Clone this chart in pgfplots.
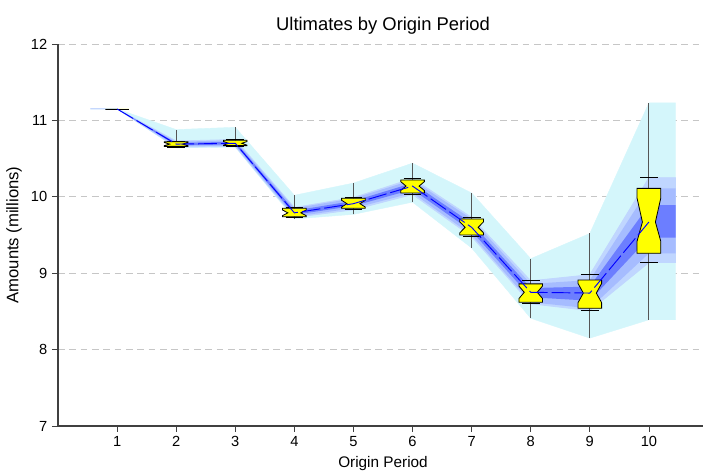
\documentclass[border=0pt]{standalone}
\usepackage{pgfplots}
\pgfplotsset{compat=1.18}
\usepackage{pgfplotstable}
\usepgfplotslibrary{fillbetween}
\usepackage{fontspec}
\setmainfont{Liberation Sans}
\definecolor{bandcyan}{RGB}{212,246,251}
\definecolor{bandlight}{RGB}{192,214,255}
\definecolor{bandmid}{RGB}{166,188,255}
\definecolor{banddark}{RGB}{108,126,255}
\definecolor{boxyellow}{RGB}{255,255,0}
\definecolor{whisk}{RGB}{85,85,85}

\pgfplotstableread{
x     min    p5     q1     dlo    med    dhi    q3     p95    max
0.55  11.15  11.15  11.15  11.15  11.15  11.15  11.15  11.15  11.15
1     11.15  11.15  11.15  11.15  11.15  11.15  11.15  11.15  11.15
2     10.64  10.65  10.66  10.675 10.69  10.705 10.72  10.73  10.88
3     10.65  10.66  10.67  10.685 10.70  10.72  10.74  10.75  10.91
4     9.71   9.73   9.74   9.765  9.79   9.82   9.85   9.86   10.02
5     9.77   9.83   9.85   9.88   9.91   9.945  9.98   9.99   10.18
6     9.93   10.03  10.05  10.095 10.14  10.18  10.22  10.24  10.44
7     9.33   9.48   9.50   9.55   9.60   9.655  9.71   9.73   10.05
8     8.41   8.60   8.62   8.685  8.75   8.805  8.86   8.90   9.19
9     8.15   8.51   8.54   8.64   8.74   8.825  8.91   8.98   9.52
10    8.39   9.14   9.26   9.465  9.67   9.89   10.11  10.25  11.23
10.45 8.39   9.14   9.26   9.465  9.67   9.89   10.11  10.25  11.23
}\ultimates

% notched box: xl, xpl, xpr, xr, q1, notch-lo, median, notch-hi, q3
\newcommand{\nbox}[9]{%
  \addplot[fill=boxyellow, draw=black, line width=0.6pt] coordinates {(#1,#5) (#4,#5) (#4,#6) (#3,#7) (#4,#8) (#4,#9) (#1,#9) (#1,#8) (#2,#7) (#1,#6)} -- cycle;}
% whisker line: x, min, max ; caps: xl, xr, p5, p95
\newcommand{\whisk}[3]{\addplot[whisk, line width=0.7pt] coordinates {(#1,#2) (#1,#3)};}
\newcommand{\caps}[4]{%
  \addplot[black, line width=0.6pt] coordinates {(#1,#3) (#2,#3)};
  \addplot[black, line width=0.6pt] coordinates {(#1,#4) (#2,#4)};}

\begin{document}
\begin{tikzpicture}
\begin{axis}[
  scale only axis,
  width=487.5pt, height=286.5pt,
  xmin=0, xmax=11, ymin=7, ymax=12,
  axis x line*=bottom, axis y line*=left,
  axis line style={black!75, line width=0.8pt, -},
  xtick={1,...,10}, ytick={7,...,12},
  tick align=outside, tick pos=left,
  major tick length=4.5pt,
  tick style={black!75, line width=0.6pt},
  ymajorgrids, grid style={gray!45, dash pattern=on 5pt off 3.5pt, line width=0.6pt},
  /pgf/number format/assume math mode=true,
  ticklabel style={font=\fontsize{11}{13}\selectfont},
  xlabel={Origin Period}, ylabel={Amounts (millions)},
  xlabel style={font=\fontsize{11.5}{13}\selectfont},
  ylabel style={font=\fontsize{12.5}{14}\selectfont, xshift=0pt},
  title={Ultimates by Origin Period},
  title style={font=\fontsize{13.8}{16}\selectfont, yshift=-2pt},
  clip=false,
]
% bands
\addplot[name path=vmax, draw=none] table[x=x, y=max] {\ultimates};
\addplot[name path=vmin, draw=none] table[x=x, y=min] {\ultimates};
\addplot[bandcyan, draw=bandcyan, line width=0.3pt] fill between[of=vmax and vmin];
\addplot[name path=v95, draw=none] table[x=x, y=p95] {\ultimates};
\addplot[name path=v5, draw=none] table[x=x, y=p5] {\ultimates};
\addplot[bandlight, draw=bandlight, line width=0.6pt] fill between[of=v95 and v5];
\addplot[name path=vq3, draw=none] table[x=x, y=q3] {\ultimates};
\addplot[name path=vq1, draw=none] table[x=x, y=q1] {\ultimates};
\addplot[bandmid, draw=none] fill between[of=vq3 and vq1];
\addplot[name path=vdh, draw=none] table[x=x, y=dhi] {\ultimates};
\addplot[name path=vdl, draw=none] table[x=x, y=dlo] {\ultimates};
\addplot[banddark, draw=none] fill between[of=vdh and vdl];
% whiskers
\whisk{2}{10.64}{10.88}
\whisk{3}{10.65}{10.91}
\whisk{4}{9.71}{10.02}
\whisk{5}{9.77}{10.18}
\whisk{6}{9.93}{10.44}
\whisk{7}{9.33}{10.05}
\whisk{8}{8.41}{9.19}
\whisk{9}{8.15}{9.52}
\whisk{10}{8.39}{11.23}
% caps
\caps{0.85}{1.15}{11.15}{11.15}
\caps{1.85}{2.15}{10.65}{10.73}
\caps{2.85}{3.15}{10.66}{10.75}
\caps{3.85}{4.15}{9.73}{9.86}
\caps{4.85}{5.15}{9.83}{9.99}
\caps{5.85}{6.15}{10.03}{10.24}
\caps{6.85}{7.15}{9.48}{9.73}
\caps{7.85}{8.15}{8.60}{8.90}
\caps{8.85}{9.15}{8.51}{8.98}
\caps{9.85}{10.15}{9.14}{10.25}
% notched boxes
\nbox{0.8}{0.89}{1.11}{1.2}{11.15}{11.15}{11.15}{11.15}{11.15}
\nbox{1.8}{1.89}{2.11}{2.2}{10.66}{10.67}{10.69}{10.71}{10.72}
\nbox{2.8}{2.89}{3.11}{3.2}{10.67}{10.676}{10.70}{10.724}{10.74}
\nbox{3.8}{3.89}{4.11}{4.2}{9.74}{9.753}{9.79}{9.827}{9.85}
\nbox{4.8}{4.89}{5.11}{5.2}{9.85}{9.866}{9.91}{9.954}{9.98}
\nbox{5.8}{5.89}{6.11}{6.2}{10.05}{10.082}{10.14}{10.198}{10.22}
\nbox{6.8}{6.89}{7.11}{7.2}{9.50}{9.529}{9.60}{9.671}{9.71}
\nbox{7.8}{7.89}{8.11}{8.2}{8.62}{8.668}{8.75}{8.832}{8.86}
\nbox{8.8}{8.89}{9.11}{9.2}{8.54}{8.614}{8.74}{8.866}{8.91}
\nbox{9.8}{9.89}{10.11}{10.2}{9.26}{9.42}{9.67}{9.98}{10.11}
% median line
\addplot[blue, line width=0.7pt, dash pattern=on 14pt off 3pt, restrict x to domain=1:10] table[x=x, y=med] {\ultimates};
\end{axis}
\pgfresetboundingbox
\path[use as bounding box] (-43.5pt,-36pt) rectangle (483.75pt,319.5pt);
\end{tikzpicture}
\end{document}
